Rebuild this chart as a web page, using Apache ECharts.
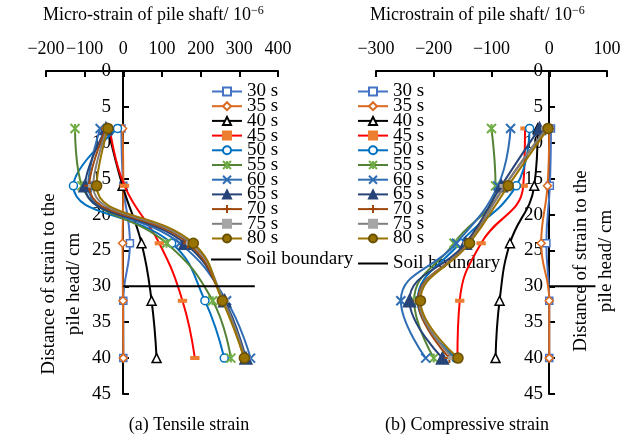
<!DOCTYPE html>
<html>
<head>
<meta charset="utf-8">
<script src="https://cdn.jsdelivr.net/npm/echarts@6/dist/echarts.min.js"></script>
<style>
html,body{margin:0;padding:0;background:#fff;}
#main{width:630px;height:438px;}
</style>
</head>
<body>
<div id="main"></div>
<script>
// depths of the strain gauges (cm)
var depths = [8, 16, 24, 32, 40];
var times = ['30 s','35 s','40 s','45 s','50 s','55 s','60 s','65 s','70 s','75 s','80 s'];

// (a) tensile strain, one array per time
var t30 = [-5, 0, 17, 0, 0];
var t35 = [-2, 0, -2, -1, 0];
var t40 = [-40, -2, 47, 73, 86];
var t45 = [-35, 3, 93, 153, 185];
var t50 = [-15, -129, 125, 211, 261];
var t55 = [-125, -107, 112, 231, 278];
var t60 = [-60, -91, 146, 267, 329];
var t65 = [-45, -99, 159, 262, 317];
var t70 = [-45, -88, 167, 258, 312];
var t75 = [-42, -78, 175, 260, 315];
var t80 = [-40, -69, 181, 256, 313];

// (b) compressive strain
var c30 = [3, 1, -5, 0, 0];
var c35 = [0, -3, -14, 0, 0];
var c40 = [-20, -26, -68, -86, -93];
var c45 = [-42, -45, -118, -155, -159];
var c50 = [-34, -57, -155, -228, -162];
var c55 = [-100, -93, -165, -234, -200];
var c60 = [-67, -89, -161, -257, -214];
var c65 = [-17, -83, -145, -242, -185];
var c70 = [-5, -77, -141, -227, -173];
var c75 = [-5, -77, -140, -225, -167];
var c80 = [-2, -71, -138, -223, -158];

// soil boundary lines [x, depth]
var soilA = [[0, 30], [340, 30]];
var soilB = [[0, 30], [80, 30]];

var tensile = [t30,t35,t40,t45,t50,t55,t60,t65,t70,t75,t80];
var compressive = [c30,c35,c40,c45,c50,c55,c60,c65,c70,c75,c80];

var font = "'Liberation Serif','Times New Roman',serif";

// line color, marker, marker size, marker fill, marker border
var sty = [
    ['#4472c4', 'rect', 7, '#fff', '#4472c4'],
    ['#d9691e', 'diamond', 8, '#fff', '#d9691e'],
    ['#000000', 'triangle', 9, '#fff', '#000000'],
    ['#ff0000', 'rect', [7,3], '#ed7d31', '#ed7d31'],
    ['#0070c0', 'circle', 8, '#fff', '#0070c0'],
    ['#548235', 'path://M0,0L10,10M10,0L0,10M5,0L5,10', 9, '#70ad47', '#70ad47'],
    ['#2e6db4', 'path://M0,0L10,10M10,0L0,10', 9, '#2e6db4', '#2e6db4'],
    ['#264478', 'triangle', 12, '#264478', '#264478'],
    ['#9e480e', 'path://M5,0L5,10M0,5L10,5', 10, '#9e480e', '#9e480e'],
    ['#7f7f7f', 'rect', [8,3], '#a6a6a6', '#a6a6a6'],
    ['#997300', 'circle', 10, '#997300', '#6b5000']
];

function makeSeries(vals, idx) {
    var list = [];
    for (var i = 0; i < vals.length; i++) {
        var s = sty[i];
        var pathSym = s[1].indexOf('path://') === 0;
        list.push({
            name: times[i],
            type: 'line',
            xAxisIndex: idx,
            yAxisIndex: idx,
            smooth: 0.45,
            data: depths.map(function (d, k) { return [vals[i][k], d]; }),
            symbol: s[1],
            symbolSize: s[2],
            showAllSymbol: true,
            lineStyle: {color: s[0], width: 2},
            itemStyle: {color: s[3], borderColor: s[4], borderWidth: pathSym ? 2 : 1.5, opacity: 1},
            emphasis: {disabled: true},
            z: 3 + i
        });
    }
    return list;
}

function soilSeries(data, idx) {
    return {
        name: 'Soil boundary',
        type: 'line',
        xAxisIndex: idx,
        yAxisIndex: idx,
        data: data,
        symbol: 'none',
        lineStyle: {color: '#000', width: 2},
        itemStyle: {color: '#000'},
        z: 20
    };
}

function minus(v) { return String(v).replace('-', '\u2212'); }

function xAxis(idx, min, max) {
    return {
        type: 'value', gridIndex: idx, position: 'top',
        min: min, max: max, interval: 100,
        axisLine: {onZero: false, lineStyle: {color: '#000', width: 2}},
        axisTick: {inside: true, length: 6, lineStyle: {color: '#000', width: 2}},
        axisLabel: {color: '#000', fontFamily: font, fontSize: 18, lineHeight: 15, margin: 14, formatter: minus,
            showMinLabel: true, showMaxLabel: true, hideOverlap: false},
        splitLine: {show: false}
    };
}

// y axis sits on x = 0, shifted in with a negative offset
function yAxis(idx, offset, margin) {
    return {
        type: 'value', gridIndex: idx, inverse: true, position: 'left', offset: offset,
        min: 0, max: 45, interval: 5,
        axisLine: {onZero: false, lineStyle: {color: '#000', width: 2}},
        axisTick: {inside: true, length: 6, lineStyle: {color: '#000', width: 2}},
        axisLabel: {color: '#000', fontFamily: font, fontSize: 19, lineHeight: 15, margin: margin,
            showMinLabel: true, showMaxLabel: true, hideOverlap: false},
        splitLine: {show: false}
    };
}

var txt = {fontFamily: font, fontSize: 19, color: '#000'};

var myChart = echarts.init(document.getElementById('main'));
var option = {
    animation: false,
    backgroundColor: '#fff',
    grid: [
        {left: 46, top: 71, width: 232, height: 323},
        {left: 376, top: 71, width: 231, height: 323}
    ],
    xAxis: [xAxis(0, -200, 400), xAxis(1, -300, 100)],
    yAxis: [yAxis(0, -77, 12), yAxis(1, -173, 6)],
    legend: [
        {data: times, orient: 'vertical', left: 206, top: 77, itemGap: -4.3, itemWidth: 30, itemHeight: 10, textStyle: txt},
        {data: ['Soil boundary'], orient: 'vertical', left: 206, top: 245, icon: 'rect', itemWidth: 30, itemHeight: 2, textStyle: txt},
        {data: times, orient: 'vertical', left: 352, top: 77, itemGap: -4.3, itemWidth: 30, itemHeight: 10, textStyle: txt},
        {data: ['Soil boundary'], orient: 'vertical', left: 353, top: 249, icon: 'rect', itemWidth: 30, itemHeight: 2, textStyle: txt}
    ],
    graphic: [
        {type: 'text', left: 165 - 122, top: 5, style: {text: 'Micro-strain of pile shaft/ 10{s|\u22126}', font: '18px ' + font, fill: '#000',
            rich: {s: {fontSize: 12, verticalAlign: 'top', fontFamily: font, padding: [0, 0, 8, 0]}}}},
        {type: 'text', left: 487 - 117, top: 5, style: {text: 'Microstrain of pile shaft/ 10{s|\u22126}', font: '18px ' + font, fill: '#000',
            rich: {s: {fontSize: 12, verticalAlign: 'top', fontFamily: font, padding: [0, 0, 8, 0]}}}},
        {type: 'text', x: 62, y: 284, rotation: Math.PI / 2,
            style: {text: 'Distance of strain to the\npile head/ cm', font: '19px ' + font, fill: '#000', align: 'center', verticalAlign: 'middle', lineHeight: 25}},
        {type: 'text', x: 594, y: 261, rotation: Math.PI / 2,
            style: {text: 'Distance of strain to the\npile head/ cm', font: '19px ' + font, fill: '#000', align: 'center', verticalAlign: 'middle', lineHeight: 25}},
        {type: 'text', x: 189, y: 425, style: {text: '(a) Tensile strain', font: '18px ' + font, fill: '#000', align: 'center', verticalAlign: 'middle'}},
        {type: 'text', x: 467, y: 425, style: {text: '(b) Compressive strain', font: '18px ' + font, fill: '#000', align: 'center', verticalAlign: 'middle'}}
    ],
    series: makeSeries(tensile, 0).concat([soilSeries(soilA, 0)])
        .concat(makeSeries(compressive, 1)).concat([soilSeries(soilB, 1)])
};
myChart.setOption(option, true);
</script>
</body>
</html>
